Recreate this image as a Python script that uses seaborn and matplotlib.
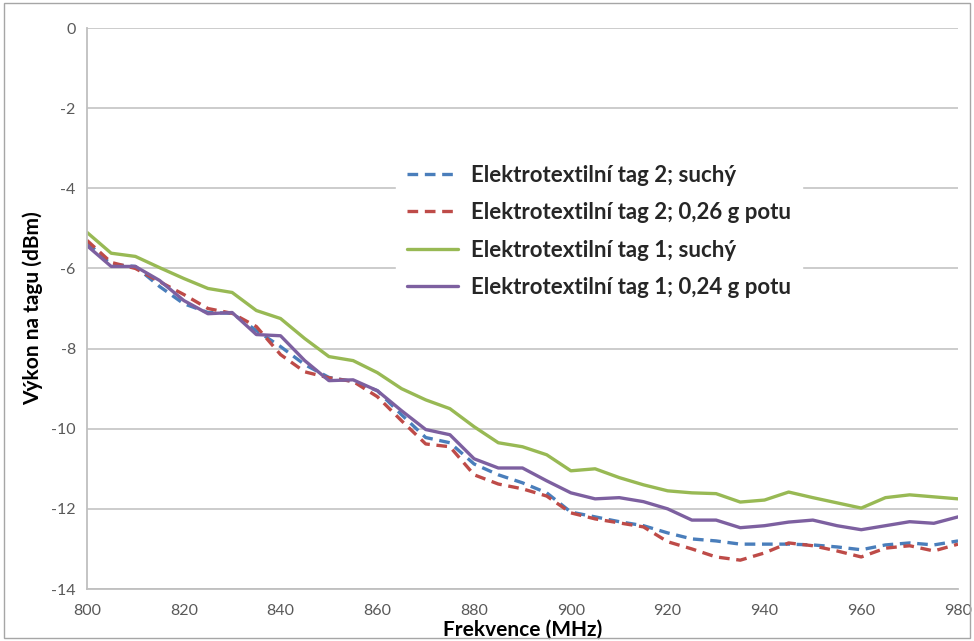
import numpy as np
import pandas as pd
import matplotlib
matplotlib.use("Agg")
import matplotlib.pyplot as plt
from matplotlib.patches import Rectangle
import seaborn as sns

# Frequency sweep (MHz)
freq = [800, 805, 810, 815, 820, 825, 830, 835, 840, 845, 850, 855, 860,
        865, 870, 875, 880, 885, 890, 895, 900, 905, 910, 915, 920, 925,
        930, 935, 940, 945, 950, 955, 960, 965, 970, 975, 980]

# Power on tag (dBm)
tag2_dry = [-5.35, -5.90, -5.95, -6.45, -6.88, -7.10, -7.12, -7.55, -7.95,
            -8.40, -8.72, -8.82, -9.05, -9.65, -10.22, -10.35, -10.88,
            -11.15, -11.35, -11.60, -12.08, -12.20, -12.32, -12.42, -12.60,
            -12.75, -12.80, -12.88, -12.88, -12.88, -12.90, -12.95, -13.02,
            -12.90, -12.85, -12.90, -12.80]
tag2_sweat = [-5.30, -5.85, -6.00, -6.33, -6.65, -7.00, -7.12, -7.45, -8.15,
              -8.58, -8.73, -8.82, -9.20, -9.80, -10.38, -10.45, -11.15,
              -11.38, -11.50, -11.68, -12.10, -12.25, -12.35, -12.45, -12.82,
              -13.00, -13.20, -13.28, -13.10, -12.85, -12.92, -13.05, -13.20,
              -12.98, -12.92, -13.05, -12.88]
tag1_dry = [-5.10, -5.62, -5.70, -5.98, -6.25, -6.50, -6.60, -7.05, -7.25,
            -7.75, -8.20, -8.30, -8.60, -9.00, -9.28, -9.50, -9.95, -10.35,
            -10.45, -10.65, -11.05, -11.00, -11.22, -11.40, -11.55, -11.60,
            -11.62, -11.83, -11.78, -11.58, -11.72, -11.85, -11.98, -11.72,
            -11.65, -11.70, -11.75]
tag1_sweat = [-5.43, -5.95, -5.95, -6.30, -6.80, -7.13, -7.10, -7.65, -7.68,
              -8.30, -8.80, -8.78, -9.05, -9.55, -10.02, -10.15, -10.75,
              -10.98, -10.98, -11.30, -11.60, -11.75, -11.72, -11.82, -12.00,
              -12.28, -12.28, -12.47, -12.42, -12.33, -12.28, -12.42, -12.52,
              -12.42, -12.32, -12.36, -12.20]

labels = ["Elektrotextilní tag 2; suchý",
          "Elektrotextilní tag 2; 0,26 g potu",
          "Elektrotextilní tag 1; suchý",
          "Elektrotextilní tag 1; 0,24 g potu"]
colors = ["#4a7ebb", "#be4b48", "#98b954", "#7d60a0"]
dashed = [True, True, False, False]

x_ticks = [800, 820, 840, 860, 880, 900, 920, 940, 960, 980]
y_ticks = [0, -2, -4, -6, -8, -10, -12, -14]

sns.set_theme(style="white")
plt.rcParams["font.family"] = ["Lato", "DejaVu Sans"]

fig = plt.figure(figsize=(9.74, 6.41), dpi=100)
ax = fig.add_axes([0.0893, 0.0811, 0.8943, 0.8752])

series = [tag2_dry, tag2_sweat, tag1_dry, tag1_sweat]
for vals, lab, col, dsh in zip(series, labels, colors, dashed):
    df = pd.DataFrame({"f": freq, "p": vals})
    sns.lineplot(data=df, x="f", y="p", ax=ax, color=col, linewidth=2.4,
                 label=lab, linestyle=(0, (3.2, 2.0)) if dsh else "-")

ax.set_xlim(800, 980)
ax.set_ylim(-14, 0)
ax.set_xticks(x_ticks)
ax.set_yticks(y_ticks)
ax.set_xticklabels([str(t) for t in x_ticks])
ax.set_yticklabels([str(t) for t in y_ticks])
ax.tick_params(axis="y", labelsize=11.5, labelcolor="#595959", length=0,
               pad=8)
ax.tick_params(axis="x", labelsize=11.5, labelcolor="#595959", length=0,
               pad=11)
ax.yaxis.grid(True, color="#c8c8c8", linewidth=1.3)
ax.xaxis.grid(False)
for s in ["top", "right"]:
    ax.spines[s].set_visible(False)
for s in ["left", "bottom"]:
    ax.spines[s].set_color("#bfbfbf")
    ax.spines[s].set_linewidth(1.3)

ax.set_xlabel("Frekvence (MHz)", fontsize=15, fontweight="bold",
              color="black", labelpad=1)
ax.set_ylabel("Výkon na tagu (dBm)", fontsize=15, fontweight="bold",
              color="black", labelpad=6)

leg = ax.legend(loc="upper left", bbox_to_anchor=(0.355, 0.776), frameon=True,
                fontsize=16, handlelength=2.3, handletextpad=0.55,
                labelspacing=0.74, borderpad=0.5, borderaxespad=0.0)
leg.get_frame().set_edgecolor("white")
leg.get_frame().set_facecolor("white")
leg.get_frame().set_alpha(1.0)
for t in leg.get_texts():
    t.set_fontweight("bold")

# Outer frame of the chart area
fig.patches.append(Rectangle((0.004, 0.004), 0.992, 0.992,
                             transform=fig.transFigure, fill=False,
                             edgecolor="#a6a6a6", linewidth=1.0))

fig.savefig("out.png", dpi=100, facecolor="white")
